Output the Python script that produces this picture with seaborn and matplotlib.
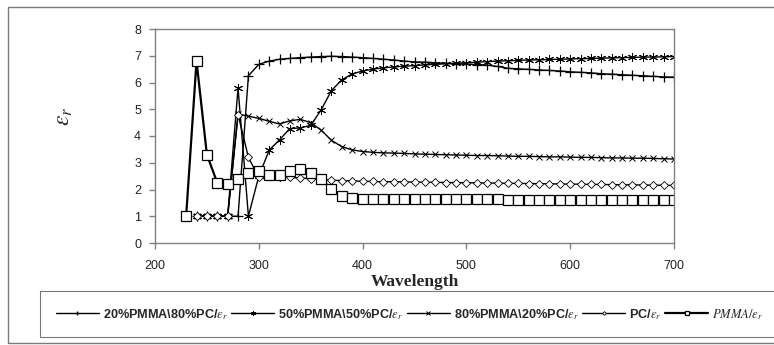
import matplotlib
matplotlib.use("Agg")
import matplotlib.pyplot as plt
from matplotlib.patches import Rectangle
import seaborn as sns

# wavelengths (nm)
wl_pmma = list(range(230, 710, 10))
wl_blend = list(range(240, 710, 10))

# relative permittivity
pmma = [1.0, 6.8, 3.3, 2.25, 2.22, 2.38, 2.6, 2.68, 2.56, 2.56, 2.7, 2.76, 2.6, 2.38,
        2.03, 1.76, 1.68, 1.65,
        1.64, 1.65, 1.64, 1.64, 1.64, 1.64, 1.64, 1.64, 1.64, 1.64, 1.64, 1.64, 1.64,
        1.6, 1.6, 1.6, 1.6, 1.6, 1.6, 1.6, 1.6, 1.6, 1.6, 1.6, 1.6, 1.6, 1.6, 1.6, 1.6, 1.6]
pc = [1.0, 1.0, 1.0, 1.0,
      4.8, 3.2, 2.45, 2.5, 2.48, 2.45, 2.43, 2.4, 2.37, 2.35, 2.33, 2.32, 2.31,
      2.30, 2.29, 2.29, 2.28, 2.28, 2.27, 2.27, 2.26, 2.26, 2.25, 2.25, 2.24, 2.24, 2.23,
      2.23, 2.22, 2.22, 2.21, 2.21, 2.20, 2.20, 2.19, 2.19, 2.18, 2.18, 2.17, 2.17, 2.16,
      2.16, 2.15]
pmma80 = [1.0, 1.0, 1.0, 1.0,
          4.82, 4.74, 4.66, 4.55, 4.45, 4.57, 4.62, 4.5, 4.22, 3.84, 3.6, 3.48, 3.42,
          3.39, 3.37, 3.36, 3.35, 3.33, 3.32, 3.31, 3.3, 3.29, 3.28, 3.27, 3.27, 3.26, 3.25,
          3.24, 3.24, 3.23, 3.22, 3.22, 3.21, 3.2, 3.2, 3.19, 3.18, 3.18, 3.17, 3.17, 3.16,
          3.15, 3.14]
pmma50 = [1.0, 1.0, 1.0, 1.0,
          5.8, 1.0, 2.5, 3.47, 3.86, 4.28, 4.3, 4.4, 4.97, 5.7, 6.1, 6.32, 6.43,
          6.5, 6.55, 6.58, 6.61, 6.63, 6.66, 6.68, 6.7, 6.72, 6.74, 6.76, 6.78, 6.8, 6.81,
          6.83, 6.84, 6.85, 6.86, 6.87, 6.88, 6.89, 6.9, 6.91, 6.92, 6.93, 6.94, 6.95, 6.95,
          6.96, 6.97]
pmma20 = [1.0, 1.0, 1.0, 1.0, 1.0,
          6.25, 6.68, 6.8, 6.87, 6.9, 6.93, 6.95, 6.97, 6.98, 6.97, 6.95, 6.93,
          6.9, 6.87, 6.84, 6.8, 6.77, 6.76, 6.74, 6.72, 6.7, 6.69, 6.67, 6.65, 6.6, 6.53,
          6.51, 6.49, 6.47, 6.45, 6.43, 6.4, 6.38, 6.36, 6.33, 6.31, 6.29, 6.27, 6.25, 6.23,
          6.21, 6.2]

labels = [r"20%PMMA\80%PC/$\varepsilon_r$", r"50%PMMA\50%PC/$\varepsilon_r$",
          r"80%PMMA\20%PC/$\varepsilon_r$", r"PC/$\varepsilon_r$", r"$PMMA/\varepsilon_r$"]

sns.set_style("white")
plt.rcParams["font.family"] = ["Liberation Sans", "DejaVu Sans"]
plt.rcParams["mathtext.fontset"] = "stix"

fig = plt.figure(figsize=(7.74, 3.45), dpi=100)
ax = fig.add_axes([155 / 774, 1 - 243 / 345, 519 / 774, 214 / 345])

# outer frame of the whole figure
fig.patches.append(Rectangle((8 / 774, 1 - 343 / 345), 780 / 774, 336 / 345,
                             transform=fig.transFigure, fill=False,
                             edgecolor="#7a7a7a", linewidth=1.0))

line_kw = dict(color="black", linewidth=1.0, markeredgecolor="black")
sns.lineplot(x=wl_blend, y=pmma20, ax=ax, marker="+", markersize=6.5,
             markeredgewidth=0.9, label=labels[0], **line_kw)
sns.lineplot(x=wl_blend, y=pmma50, ax=ax, marker=(6, 2, 0), markersize=6.5,
             markeredgewidth=0.7, label=labels[1], **line_kw)
sns.lineplot(x=wl_blend, y=pmma80, ax=ax, marker="x", markersize=5,
             markeredgewidth=0.7, label=labels[2], **line_kw)
sns.lineplot(x=wl_blend, y=pc, ax=ax, marker="D", markersize=3.8, markerfacecolor="white",
             markeredgewidth=0.6, label=labels[3], **line_kw)
sns.lineplot(x=wl_pmma, y=pmma, ax=ax, marker="s", markersize=6.5, markerfacecolor="white",
             markeredgewidth=0.9, color="black", linewidth=1.6, markeredgecolor="black",
             label=labels[4])

ax.set_xlim(200, 700)
ax.set_ylim(0, 8)
ax.set_xticks(range(200, 701, 100))
ax.set_yticks(range(0, 9))
for sp in ax.spines.values():
    sp.set_color("#808080")
    sp.set_linewidth(1.0)
ax.tick_params(axis="both", which="both", direction="out", length=4, width=1.0,
               color="#808080", labelsize=9, labelcolor="#222222", pad=6)
ax.tick_params(axis="x", bottom=True, pad=8)
ax.tick_params(axis="y", left=True)

ax.set_xlabel("Wavelength", family="Liberation Serif", fontweight="bold",
              fontsize=12.5, labelpad=2)
ax.set_ylabel(r"$\varepsilon_r$", fontsize=17)
ax.yaxis.set_label_coords(-0.154, 0.59)

handles, lab = ax.get_legend_handles_labels()
ax.get_legend().remove()
fig.legend(handles, lab, loc="upper left", bbox_to_anchor=(40 / 774, 1 - 291 / 345),
           ncol=5, frameon=True, fancybox=False, edgecolor="#555555",
           prop={"weight": "bold", "size": 9.1}, handlelength=3.4, handletextpad=0.3,
           columnspacing=0.3, borderpad=1.25, markerscale=0.5,
           borderaxespad=0)
leg = fig.legends[0]
leg.get_frame().set_linewidth(0.8)

plt.savefig("out.png", dpi=100)
